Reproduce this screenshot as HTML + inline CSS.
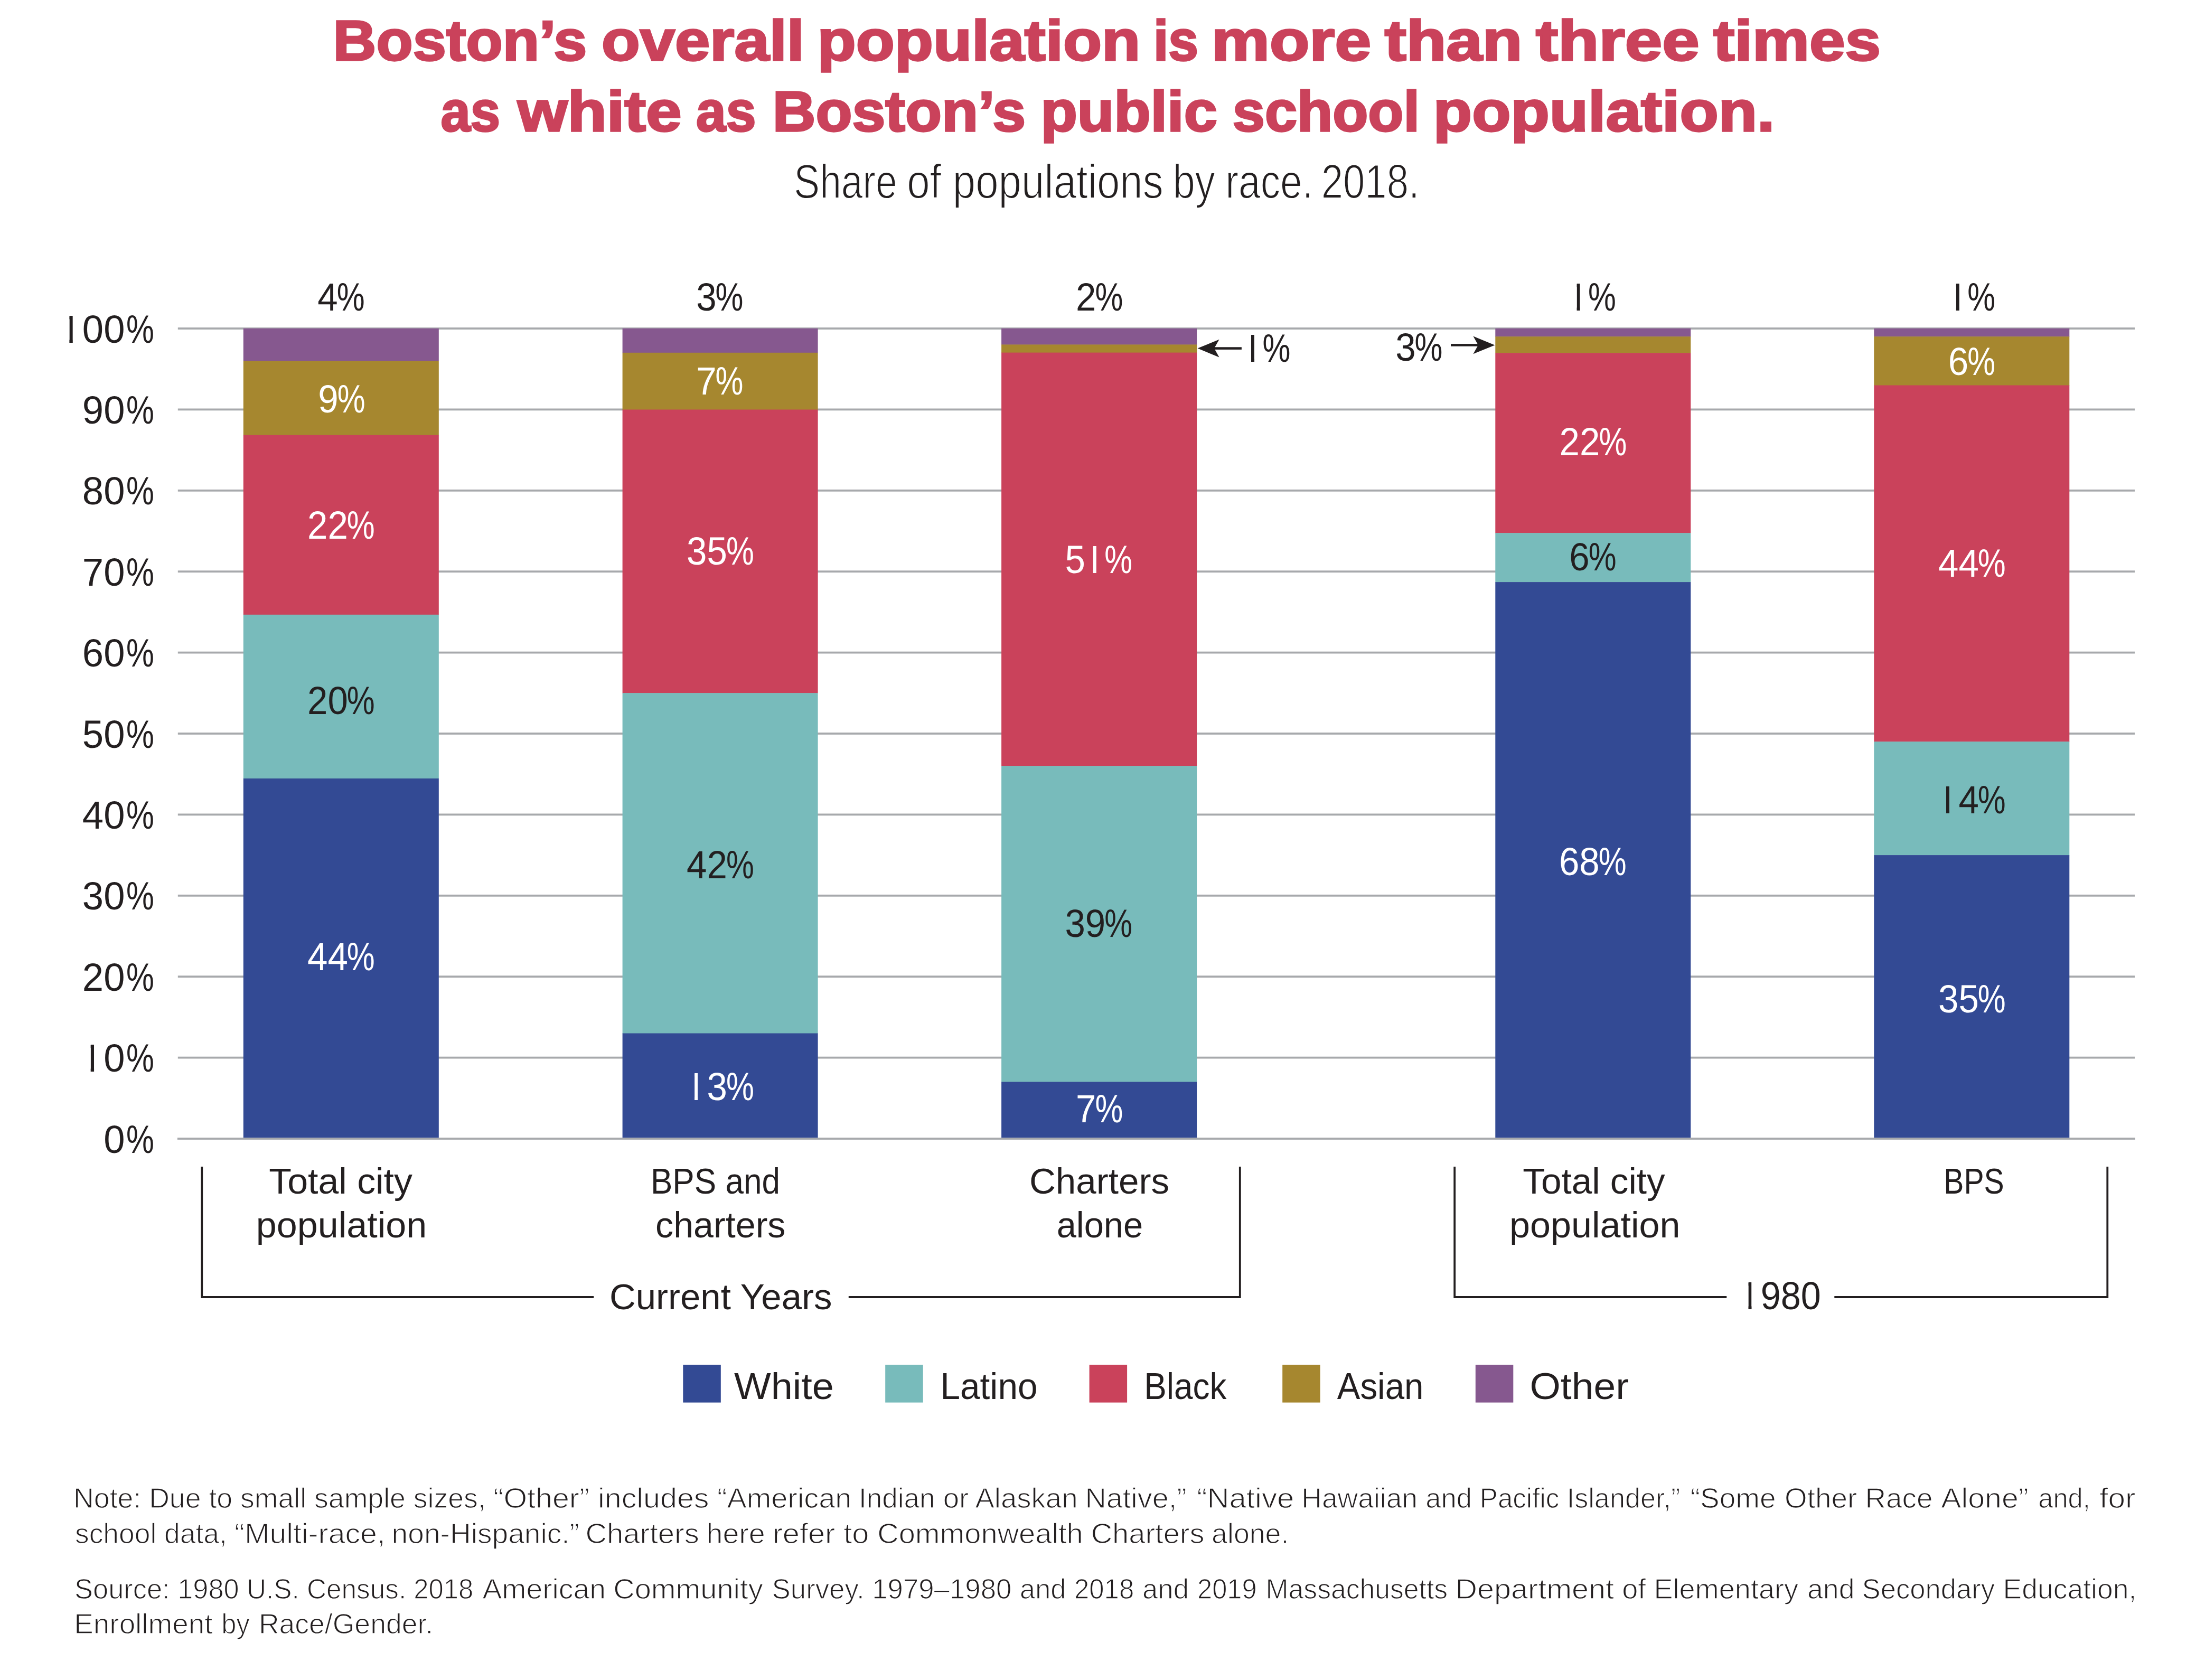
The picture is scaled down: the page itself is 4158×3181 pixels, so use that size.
<!DOCTYPE html>
<html lang="en"><head><meta charset="utf-8"><title>Boston population by race</title>
<style>
html,body{margin:0;padding:0;background:#fff}
svg{display:block}
text{font-family:"Liberation Sans",sans-serif}
</style></head><body>
<svg width="4158" height="3181" viewBox="0 0 4158 3181">
<rect width="4158" height="3181" fill="#fff"/>
<defs><clipPath id="k1"><rect x="171.68" y="1954.70" width="6.40" height="86.50"/><rect x="195.16" y="1954.70" width="42.30" height="86.50"/><rect x="238.00" y="1954.70" width="54.60" height="86.50"/></clipPath><clipPath id="k2"><rect x="131.38" y="574.10" width="6.40" height="86.50"/><rect x="154.86" y="574.10" width="42.30" height="86.50"/><rect x="195.16" y="574.10" width="42.30" height="86.50"/><rect x="238.00" y="574.10" width="54.60" height="86.50"/></clipPath><clipPath id="k3"><rect x="1315.07" y="2008.60" width="6.10" height="86.50"/><rect x="1337.51" y="2008.60" width="40.40" height="86.50"/><rect x="1374.00" y="2008.60" width="54.60" height="86.50"/></clipPath><clipPath id="k4"><rect x="2015.41" y="1010.80" width="40.40" height="86.50"/><rect x="2069.77" y="1010.80" width="6.10" height="86.50"/><rect x="2090.30" y="1010.80" width="54.60" height="86.50"/></clipPath><clipPath id="k5"><rect x="2368.97" y="610.40" width="6.10" height="86.50"/><rect x="2389.50" y="610.40" width="54.60" height="86.50"/></clipPath><clipPath id="k6"><rect x="2985.57" y="513.50" width="6.10" height="86.50"/><rect x="3006.10" y="513.50" width="54.60" height="86.50"/></clipPath><clipPath id="k7"><rect x="3703.77" y="513.50" width="6.10" height="86.50"/><rect x="3724.30" y="513.50" width="54.60" height="86.50"/></clipPath><clipPath id="k8"><rect x="3684.97" y="1465.10" width="6.10" height="86.50"/><rect x="3707.41" y="1465.10" width="40.40" height="86.50"/><rect x="3743.90" y="1465.10" width="54.60" height="86.50"/></clipPath><clipPath id="k9"><rect x="3310.48" y="2404.30" width="6.04" height="86.50"/><rect x="3332.70" y="2404.30" width="40.00" height="86.50"/><rect x="3370.70" y="2404.30" width="40.00" height="86.50"/><rect x="3408.70" y="2404.30" width="40.00" height="86.50"/></clipPath></defs>
<rect x="335.90" y="2154.10" width="3707.10" height="3.80" fill="#A7A9AC"/>
<rect x="336.80" y="2000.70" width="3705.20" height="3.80" fill="#A7A9AC"/>
<rect x="336.80" y="1847.30" width="3705.20" height="3.80" fill="#A7A9AC"/>
<rect x="336.80" y="1693.90" width="3705.20" height="3.80" fill="#A7A9AC"/>
<rect x="336.80" y="1540.50" width="3705.20" height="3.80" fill="#A7A9AC"/>
<rect x="336.80" y="1387.10" width="3705.20" height="3.80" fill="#A7A9AC"/>
<rect x="336.80" y="1233.70" width="3705.20" height="3.80" fill="#A7A9AC"/>
<rect x="336.80" y="1080.30" width="3705.20" height="3.80" fill="#A7A9AC"/>
<rect x="336.80" y="926.90" width="3705.20" height="3.80" fill="#A7A9AC"/>
<rect x="336.80" y="773.50" width="3705.20" height="3.80" fill="#A7A9AC"/>
<rect x="336.80" y="620.10" width="3705.20" height="3.80" fill="#A7A9AC"/>
<rect x="460.80" y="621.80" width="370.00" height="62.20" fill="#86588F"/>
<rect x="460.80" y="683.50" width="370.00" height="140.80" fill="#A6872F"/>
<rect x="460.80" y="823.80" width="370.00" height="340.50" fill="#CA425B"/>
<rect x="460.80" y="1163.80" width="370.00" height="310.70" fill="#78BBBB"/>
<rect x="460.80" y="1474.00" width="370.00" height="680.00" fill="#334A94"/>
<rect x="1178.60" y="621.80" width="370.00" height="46.50" fill="#86588F"/>
<rect x="1178.60" y="667.80" width="370.00" height="108.20" fill="#A6872F"/>
<rect x="1178.60" y="775.50" width="370.00" height="537.20" fill="#CA425B"/>
<rect x="1178.60" y="1312.20" width="370.00" height="644.80" fill="#78BBBB"/>
<rect x="1178.60" y="1956.50" width="370.00" height="197.50" fill="#334A94"/>
<rect x="1896.10" y="621.80" width="370.00" height="31.10" fill="#86588F"/>
<rect x="1896.10" y="652.40" width="370.00" height="15.70" fill="#A6872F"/>
<rect x="1896.10" y="667.60" width="370.00" height="783.10" fill="#CA425B"/>
<rect x="1896.10" y="1450.20" width="370.00" height="598.70" fill="#78BBBB"/>
<rect x="1896.10" y="2048.40" width="370.00" height="105.60" fill="#334A94"/>
<rect x="2831.30" y="621.80" width="370.00" height="15.90" fill="#86588F"/>
<rect x="2831.30" y="637.20" width="370.00" height="31.60" fill="#A6872F"/>
<rect x="2831.30" y="668.30" width="370.00" height="341.40" fill="#CA425B"/>
<rect x="2831.30" y="1009.20" width="370.00" height="93.40" fill="#78BBBB"/>
<rect x="2831.30" y="1102.10" width="370.00" height="1051.90" fill="#334A94"/>
<rect x="3548.30" y="621.80" width="370.00" height="15.90" fill="#86588F"/>
<rect x="3548.30" y="637.20" width="370.00" height="92.80" fill="#A6872F"/>
<rect x="3548.30" y="729.50" width="370.00" height="675.20" fill="#CA425B"/>
<rect x="3548.30" y="1404.20" width="370.00" height="215.40" fill="#78BBBB"/>
<rect x="3548.30" y="1619.10" width="370.00" height="534.90" fill="#334A94"/>
<text y="113.70" font-size="108" fill="#CA425B" font-weight="bold" stroke="#CA425B" stroke-width="3.4"><tspan x="630.51" textLength="480.94" lengthAdjust="spacingAndGlyphs">Boston’s</tspan> <tspan x="1138.95" textLength="383.88" lengthAdjust="spacingAndGlyphs">overall</tspan> <tspan x="1547.61" textLength="611.61" lengthAdjust="spacingAndGlyphs">population</tspan> <tspan x="2183.89" textLength="84.88" lengthAdjust="spacingAndGlyphs">is</tspan> <tspan x="2294.06" textLength="302.06" lengthAdjust="spacingAndGlyphs">more</tspan> <tspan x="2621.89" textLength="260.46" lengthAdjust="spacingAndGlyphs">than</tspan> <tspan x="2907.95" textLength="309.67" lengthAdjust="spacingAndGlyphs">three</tspan> <tspan x="3243.92" textLength="317.26" lengthAdjust="spacingAndGlyphs">times</tspan></text>
<text y="247.70" font-size="108" fill="#CA425B" font-weight="bold" stroke="#CA425B" stroke-width="3.4"><tspan x="834.54" textLength="112.51" lengthAdjust="spacingAndGlyphs">as</tspan> <tspan x="979.96" textLength="310.80" lengthAdjust="spacingAndGlyphs">white</tspan> <tspan x="1318.11" textLength="113.37" lengthAdjust="spacingAndGlyphs">as</tspan> <tspan x="1462.74" textLength="479.50" lengthAdjust="spacingAndGlyphs">Boston’s</tspan> <tspan x="1970.41" textLength="334.41" lengthAdjust="spacingAndGlyphs">public</tspan> <tspan x="2333.84" textLength="354.14" lengthAdjust="spacingAndGlyphs">school</tspan> <tspan x="2713.89" textLength="646.47" lengthAdjust="spacingAndGlyphs">population.</tspan></text>
<text y="375.40" font-size="90" fill="#231F20" stroke="#fff" stroke-width="1.8"><tspan x="1503.27" textLength="195.48" lengthAdjust="spacingAndGlyphs">Share</tspan> <tspan x="1717.13" textLength="485.59" lengthAdjust="spacingAndGlyphs">of populations</tspan> <tspan x="2220.72" textLength="79.93" lengthAdjust="spacingAndGlyphs">by</tspan> <tspan x="2320.13" textLength="166.30" lengthAdjust="spacingAndGlyphs">race.</tspan> <tspan x="2501.66" textLength="186.03" lengthAdjust="spacingAndGlyphs">2018.</tspan></text>
<text y="2182.60" font-size="74.5" fill="#231F20"><tspan x="196.16" textLength="40.30" lengthAdjust="spacingAndGlyphs">0</tspan><tspan x="238.88" textLength="52.84" lengthAdjust="spacingAndGlyphs">%</tspan></text>
<text y="2029.20" font-size="74.5" fill="#231F20" clip-path="url(#k1)"><tspan x="153.46" textLength="40.30" lengthAdjust="spacingAndGlyphs">1</tspan><tspan x="196.16" textLength="40.30" lengthAdjust="spacingAndGlyphs">0</tspan><tspan x="238.88" textLength="52.84" lengthAdjust="spacingAndGlyphs">%</tspan></text>
<text y="1875.80" font-size="74.5" fill="#231F20"><tspan x="155.86" textLength="80.60" lengthAdjust="spacingAndGlyphs">20</tspan><tspan x="238.88" textLength="52.84" lengthAdjust="spacingAndGlyphs">%</tspan></text>
<text y="1722.40" font-size="74.5" fill="#231F20"><tspan x="155.86" textLength="80.60" lengthAdjust="spacingAndGlyphs">30</tspan><tspan x="238.88" textLength="52.84" lengthAdjust="spacingAndGlyphs">%</tspan></text>
<text y="1569.00" font-size="74.5" fill="#231F20"><tspan x="155.86" textLength="80.60" lengthAdjust="spacingAndGlyphs">40</tspan><tspan x="238.88" textLength="52.84" lengthAdjust="spacingAndGlyphs">%</tspan></text>
<text y="1415.60" font-size="74.5" fill="#231F20"><tspan x="155.86" textLength="80.60" lengthAdjust="spacingAndGlyphs">50</tspan><tspan x="238.88" textLength="52.84" lengthAdjust="spacingAndGlyphs">%</tspan></text>
<text y="1262.20" font-size="74.5" fill="#231F20"><tspan x="155.86" textLength="80.60" lengthAdjust="spacingAndGlyphs">60</tspan><tspan x="238.88" textLength="52.84" lengthAdjust="spacingAndGlyphs">%</tspan></text>
<text y="1108.80" font-size="74.5" fill="#231F20"><tspan x="155.86" textLength="80.60" lengthAdjust="spacingAndGlyphs">70</tspan><tspan x="238.88" textLength="52.84" lengthAdjust="spacingAndGlyphs">%</tspan></text>
<text y="955.40" font-size="74.5" fill="#231F20"><tspan x="155.86" textLength="80.60" lengthAdjust="spacingAndGlyphs">80</tspan><tspan x="238.88" textLength="52.84" lengthAdjust="spacingAndGlyphs">%</tspan></text>
<text y="802.00" font-size="74.5" fill="#231F20"><tspan x="155.86" textLength="80.60" lengthAdjust="spacingAndGlyphs">90</tspan><tspan x="238.88" textLength="52.84" lengthAdjust="spacingAndGlyphs">%</tspan></text>
<text y="648.60" font-size="74.5" fill="#231F20" clip-path="url(#k2)"><tspan x="113.16" textLength="40.30" lengthAdjust="spacingAndGlyphs">1</tspan><tspan x="155.86" textLength="80.60" lengthAdjust="spacingAndGlyphs">00</tspan><tspan x="238.88" textLength="52.84" lengthAdjust="spacingAndGlyphs">%</tspan></text>
<text y="588.00" font-size="74.5" fill="#231F20"><tspan x="601.31" textLength="38.40" lengthAdjust="spacingAndGlyphs">4</tspan><tspan x="637.68" textLength="52.84" lengthAdjust="spacingAndGlyphs">%</tspan></text>
<text y="780.80" font-size="74.5" fill="#fff"><tspan x="602.31" textLength="38.40" lengthAdjust="spacingAndGlyphs">9</tspan><tspan x="638.68" textLength="52.84" lengthAdjust="spacingAndGlyphs">%</tspan></text>
<text y="1019.60" font-size="74.5" fill="#fff"><tspan x="582.01" textLength="76.80" lengthAdjust="spacingAndGlyphs">22</tspan><tspan x="656.78" textLength="52.84" lengthAdjust="spacingAndGlyphs">%</tspan></text>
<text y="1352.00" font-size="74.5" fill="#231F20"><tspan x="582.01" textLength="76.80" lengthAdjust="spacingAndGlyphs">20</tspan><tspan x="656.78" textLength="52.84" lengthAdjust="spacingAndGlyphs">%</tspan></text>
<text y="1836.80" font-size="74.5" fill="#fff"><tspan x="582.01" textLength="76.80" lengthAdjust="spacingAndGlyphs">44</tspan><tspan x="656.78" textLength="52.84" lengthAdjust="spacingAndGlyphs">%</tspan></text>
<text y="588.00" font-size="74.5" fill="#231F20"><tspan x="1318.21" textLength="38.40" lengthAdjust="spacingAndGlyphs">3</tspan><tspan x="1354.58" textLength="52.84" lengthAdjust="spacingAndGlyphs">%</tspan></text>
<text y="746.80" font-size="74.5" fill="#fff"><tspan x="1318.21" textLength="38.40" lengthAdjust="spacingAndGlyphs">7</tspan><tspan x="1354.58" textLength="52.84" lengthAdjust="spacingAndGlyphs">%</tspan></text>
<text y="1068.50" font-size="74.5" fill="#fff"><tspan x="1300.11" textLength="76.80" lengthAdjust="spacingAndGlyphs">35</tspan><tspan x="1374.88" textLength="52.84" lengthAdjust="spacingAndGlyphs">%</tspan></text>
<text y="1662.50" font-size="74.5" fill="#231F20"><tspan x="1300.11" textLength="76.80" lengthAdjust="spacingAndGlyphs">42</tspan><tspan x="1374.88" textLength="52.84" lengthAdjust="spacingAndGlyphs">%</tspan></text>
<text y="2083.10" font-size="74.5" fill="#fff" clip-path="url(#k3)"><tspan x="1297.71" textLength="38.40" lengthAdjust="spacingAndGlyphs">1</tspan><tspan x="1338.51" textLength="38.40" lengthAdjust="spacingAndGlyphs">3</tspan><tspan x="1374.88" textLength="52.84" lengthAdjust="spacingAndGlyphs">%</tspan></text>
<text y="588.00" font-size="74.5" fill="#231F20"><tspan x="2037.11" textLength="38.40" lengthAdjust="spacingAndGlyphs">2</tspan><tspan x="2073.48" textLength="52.84" lengthAdjust="spacingAndGlyphs">%</tspan></text>
<text y="1085.30" font-size="74.5" fill="#fff" clip-path="url(#k4)"><tspan x="2016.41" textLength="38.40" lengthAdjust="spacingAndGlyphs">5</tspan><tspan x="2052.41" textLength="38.40" lengthAdjust="spacingAndGlyphs">1</tspan><tspan x="2091.18" textLength="52.84" lengthAdjust="spacingAndGlyphs">%</tspan></text>
<text y="1774.00" font-size="74.5" fill="#231F20"><tspan x="2016.41" textLength="76.80" lengthAdjust="spacingAndGlyphs">39</tspan><tspan x="2091.18" textLength="52.84" lengthAdjust="spacingAndGlyphs">%</tspan></text>
<text y="2125.10" font-size="74.5" fill="#fff"><tspan x="2037.11" textLength="38.40" lengthAdjust="spacingAndGlyphs">7</tspan><tspan x="2073.48" textLength="52.84" lengthAdjust="spacingAndGlyphs">%</tspan></text>
<text y="684.90" font-size="74.5" fill="#231F20" clip-path="url(#k5)"><tspan x="2351.61" textLength="38.40" lengthAdjust="spacingAndGlyphs">1</tspan><tspan x="2390.38" textLength="52.84" lengthAdjust="spacingAndGlyphs">%</tspan></text>
<text y="682.80" font-size="74.5" fill="#231F20"><tspan x="2642.21" textLength="38.40" lengthAdjust="spacingAndGlyphs">3</tspan><tspan x="2678.58" textLength="52.84" lengthAdjust="spacingAndGlyphs">%</tspan></text>
<text y="588.00" font-size="74.5" fill="#231F20" clip-path="url(#k6)"><tspan x="2968.21" textLength="38.40" lengthAdjust="spacingAndGlyphs">1</tspan><tspan x="3006.98" textLength="52.84" lengthAdjust="spacingAndGlyphs">%</tspan></text>
<text y="861.60" font-size="74.5" fill="#fff"><tspan x="2952.61" textLength="76.80" lengthAdjust="spacingAndGlyphs">22</tspan><tspan x="3027.38" textLength="52.84" lengthAdjust="spacingAndGlyphs">%</tspan></text>
<text y="1080.20" font-size="74.5" fill="#231F20"><tspan x="2971.31" textLength="38.40" lengthAdjust="spacingAndGlyphs">6</tspan><tspan x="3007.68" textLength="52.84" lengthAdjust="spacingAndGlyphs">%</tspan></text>
<text y="1657.40" font-size="74.5" fill="#fff"><tspan x="2951.91" textLength="76.80" lengthAdjust="spacingAndGlyphs">68</tspan><tspan x="3026.68" textLength="52.84" lengthAdjust="spacingAndGlyphs">%</tspan></text>
<text y="588.00" font-size="74.5" fill="#231F20" clip-path="url(#k7)"><tspan x="3686.41" textLength="38.40" lengthAdjust="spacingAndGlyphs">1</tspan><tspan x="3725.18" textLength="52.84" lengthAdjust="spacingAndGlyphs">%</tspan></text>
<text y="710.00" font-size="74.5" fill="#fff"><tspan x="3688.81" textLength="38.40" lengthAdjust="spacingAndGlyphs">6</tspan><tspan x="3725.18" textLength="52.84" lengthAdjust="spacingAndGlyphs">%</tspan></text>
<text y="1092.00" font-size="74.5" fill="#fff"><tspan x="3670.01" textLength="76.80" lengthAdjust="spacingAndGlyphs">44</tspan><tspan x="3744.78" textLength="52.84" lengthAdjust="spacingAndGlyphs">%</tspan></text>
<text y="1539.60" font-size="74.5" fill="#231F20" clip-path="url(#k8)"><tspan x="3667.61" textLength="38.40" lengthAdjust="spacingAndGlyphs">1</tspan><tspan x="3708.41" textLength="38.40" lengthAdjust="spacingAndGlyphs">4</tspan><tspan x="3744.78" textLength="52.84" lengthAdjust="spacingAndGlyphs">%</tspan></text>
<text y="1916.70" font-size="74.5" fill="#fff"><tspan x="3670.01" textLength="76.80" lengthAdjust="spacingAndGlyphs">35</tspan><tspan x="3744.78" textLength="52.84" lengthAdjust="spacingAndGlyphs">%</tspan></text>
<path d="M2267.5,659.6 L2308.5,642.8000000000001 L2299.0,659.6 L2308.5,676.4 Z" fill="#231F20"/>
<rect x="2297.50" y="657.30" width="53.40" height="4.60" fill="#231F20"/>
<path d="M2830.4,653.4 L2789.4,636.6 L2798.9,653.4 L2789.4,670.1999999999999 Z" fill="#231F20"/>
<rect x="2747.00" y="651.10" width="53.40" height="4.60" fill="#231F20"/>
<text y="2260.20" font-size="69" fill="#231F20"><tspan x="509.23" textLength="271.71" lengthAdjust="spacingAndGlyphs">Total city</tspan></text>
<text y="2343.00" font-size="69" fill="#231F20"><tspan x="484.89" textLength="323.26" lengthAdjust="spacingAndGlyphs">population</tspan></text>
<text y="2260.20" font-size="69" fill="#231F20"><tspan x="1231.91" textLength="245.10" lengthAdjust="spacingAndGlyphs">BPS and</tspan></text>
<text y="2343.00" font-size="69" fill="#231F20"><tspan x="1241.10" textLength="246.36" lengthAdjust="spacingAndGlyphs">charters</tspan></text>
<text y="2260.20" font-size="69" fill="#231F20"><tspan x="1948.89" textLength="265.11" lengthAdjust="spacingAndGlyphs">Charters</tspan></text>
<text y="2343.00" font-size="69" fill="#231F20"><tspan x="2000.66" textLength="163.51" lengthAdjust="spacingAndGlyphs">alone</tspan></text>
<text y="2260.20" font-size="69" fill="#231F20"><tspan x="2883.34" textLength="269.39" lengthAdjust="spacingAndGlyphs">Total city</tspan></text>
<text y="2343.00" font-size="69" fill="#231F20"><tspan x="2858.08" textLength="323.37" lengthAdjust="spacingAndGlyphs">population</tspan></text>
<text y="2260.20" font-size="69" fill="#231F20"><tspan x="3680.31" textLength="114.31" lengthAdjust="spacingAndGlyphs">BPS</tspan></text>
<text y="2478.80" font-size="69" fill="#231F20"><tspan x="1153.90" textLength="421.59" lengthAdjust="spacingAndGlyphs">Current Years</tspan></text>
<text y="2478.80" font-size="74.5" fill="#231F20" clip-path="url(#k9)"><tspan x="3293.30" textLength="38.00" lengthAdjust="spacingAndGlyphs">1</tspan><tspan x="3333.70" textLength="114.00" lengthAdjust="spacingAndGlyphs">980</tspan></text>
<path d="M382.3,2209 V2456 H1124.2 M1606.8,2456 H2347.8 V2209" fill="none" stroke="#231F20" stroke-width="3.8" stroke-linejoin="miter"/>
<path d="M2754.2,2209 V2456 H3269.3 M3473.3,2456 H3990.3 V2209" fill="none" stroke="#231F20" stroke-width="3.8" stroke-linejoin="miter"/>
<rect x="1293.30" y="2584.10" width="71.50" height="71.50" fill="#334A94"/>
<text y="2649.40" font-size="70" fill="#231F20"><tspan x="1389.98" textLength="188.91" lengthAdjust="spacingAndGlyphs">White</tspan></text>
<rect x="1676.20" y="2584.10" width="71.50" height="71.50" fill="#78BBBB"/>
<text y="2649.40" font-size="70" fill="#231F20"><tspan x="1780.46" textLength="184.08" lengthAdjust="spacingAndGlyphs">Latino</tspan></text>
<rect x="2062.60" y="2584.10" width="71.50" height="71.50" fill="#CA425B"/>
<text y="2649.40" font-size="70" fill="#231F20"><tspan x="2166.26" textLength="156.14" lengthAdjust="spacingAndGlyphs">Black</tspan></text>
<rect x="2428.20" y="2584.10" width="71.50" height="71.50" fill="#A6872F"/>
<text y="2649.40" font-size="70" fill="#231F20"><tspan x="2531.77" textLength="163.68" lengthAdjust="spacingAndGlyphs">Asian</tspan></text>
<rect x="2793.80" y="2584.10" width="71.50" height="71.50" fill="#86588F"/>
<text y="2649.40" font-size="70" fill="#231F20"><tspan x="2896.45" textLength="187.70" lengthAdjust="spacingAndGlyphs">Other</tspan></text>
<text y="2855.00" font-size="54" fill="#231F20" stroke="#fff" stroke-width="1.3"><tspan x="139.10" textLength="780.72" lengthAdjust="spacingAndGlyphs">Note: Due to small sample sizes,</tspan> <tspan x="934.30" textLength="408.28" lengthAdjust="spacingAndGlyphs">“Other” includes</tspan> <tspan x="1357.95" textLength="254.47" lengthAdjust="spacingAndGlyphs">“American</tspan> <tspan x="1625.90" textLength="144.54" lengthAdjust="spacingAndGlyphs">Indian</tspan> <tspan x="1785.71" textLength="254.84" lengthAdjust="spacingAndGlyphs">or Alaskan</tspan> <tspan x="2054.42" textLength="192.43" lengthAdjust="spacingAndGlyphs">Native,”</tspan> <tspan x="2266.17" textLength="184.21" lengthAdjust="spacingAndGlyphs">“Native</tspan> <tspan x="2464.32" textLength="219.75" lengthAdjust="spacingAndGlyphs">Hawaiian</tspan> <tspan x="2699.16" textLength="87.83" lengthAdjust="spacingAndGlyphs">and</tspan> <tspan x="2801.81" textLength="150.54" lengthAdjust="spacingAndGlyphs">Pacific</tspan> <tspan x="2966.68" textLength="214.73" lengthAdjust="spacingAndGlyphs">Islander,”</tspan> <tspan x="3200.79" textLength="161.65" lengthAdjust="spacingAndGlyphs">“Some</tspan> <tspan x="3379.10" textLength="280.33" lengthAdjust="spacingAndGlyphs">Other Race</tspan> <tspan x="3675.39" textLength="165.41" lengthAdjust="spacingAndGlyphs">Alone”</tspan> <tspan x="3859.25" textLength="98.60" lengthAdjust="spacingAndGlyphs">and,</tspan> <tspan x="3975.17" textLength="68.30" lengthAdjust="spacingAndGlyphs">for</tspan></text>
<text y="2922.20" font-size="54" fill="#231F20" stroke="#fff" stroke-width="1.3"><tspan x="142.01" textLength="287.78" lengthAdjust="spacingAndGlyphs">school data,</tspan> <tspan x="443.91" textLength="285.73" lengthAdjust="spacingAndGlyphs">“Multi-race,</tspan> <tspan x="741.64" textLength="355.28" lengthAdjust="spacingAndGlyphs">non-Hispanic.”</tspan> <tspan x="1108.45" textLength="215.48" lengthAdjust="spacingAndGlyphs">Charters</tspan> <tspan x="1337.55" textLength="111.22" lengthAdjust="spacingAndGlyphs">here</tspan> <tspan x="1462.67" textLength="182.75" lengthAdjust="spacingAndGlyphs">refer to</tspan> <tspan x="1661.15" textLength="389.59" lengthAdjust="spacingAndGlyphs">Commonwealth</tspan> <tspan x="2065.65" textLength="214.87" lengthAdjust="spacingAndGlyphs">Charters</tspan> <tspan x="2294.12" textLength="146.28" lengthAdjust="spacingAndGlyphs">alone.</tspan></text>
<text y="3026.50" font-size="54" fill="#231F20" stroke="#fff" stroke-width="1.3"><tspan x="141.12" textLength="311.52" lengthAdjust="spacingAndGlyphs">Source: 1980</tspan> <tspan x="467.04" textLength="99.85" lengthAdjust="spacingAndGlyphs">U.S.</tspan> <tspan x="580.99" textLength="188.19" lengthAdjust="spacingAndGlyphs">Census.</tspan> <tspan x="783.14" textLength="113.06" lengthAdjust="spacingAndGlyphs">2018</tspan> <tspan x="913.49" textLength="233.50" lengthAdjust="spacingAndGlyphs">American</tspan> <tspan x="1161.15" textLength="283.56" lengthAdjust="spacingAndGlyphs">Community</tspan> <tspan x="1461.60" textLength="453.76" lengthAdjust="spacingAndGlyphs">Survey. 1979–1980</tspan> <tspan x="1930.76" textLength="87.94" lengthAdjust="spacingAndGlyphs">and</tspan> <tspan x="2033.94" textLength="113.27" lengthAdjust="spacingAndGlyphs">2018</tspan> <tspan x="2162.96" textLength="88.04" lengthAdjust="spacingAndGlyphs">and</tspan> <tspan x="2266.95" textLength="112.85" lengthAdjust="spacingAndGlyphs">2019</tspan> <tspan x="2396.56" textLength="344.61" lengthAdjust="spacingAndGlyphs">Massachusetts</tspan> <tspan x="2755.48" textLength="300.64" lengthAdjust="spacingAndGlyphs">Department</tspan> <tspan x="3071.23" textLength="333.88" lengthAdjust="spacingAndGlyphs">of Elementary</tspan> <tspan x="3422.02" textLength="89.43" lengthAdjust="spacingAndGlyphs">and</tspan> <tspan x="3525.61" textLength="251.49" lengthAdjust="spacingAndGlyphs">Secondary</tspan> <tspan x="3792.61" textLength="252.69" lengthAdjust="spacingAndGlyphs">Education,</tspan></text>
<text y="3093.00" font-size="54" fill="#231F20" stroke="#fff" stroke-width="1.3"><tspan x="140.30" textLength="262.10" lengthAdjust="spacingAndGlyphs">Enrollment</tspan> <tspan x="419.34" textLength="53.35" lengthAdjust="spacingAndGlyphs">by</tspan> <tspan x="489.91" textLength="330.28" lengthAdjust="spacingAndGlyphs">Race/Gender.</tspan></text>
</svg>
</body></html>
